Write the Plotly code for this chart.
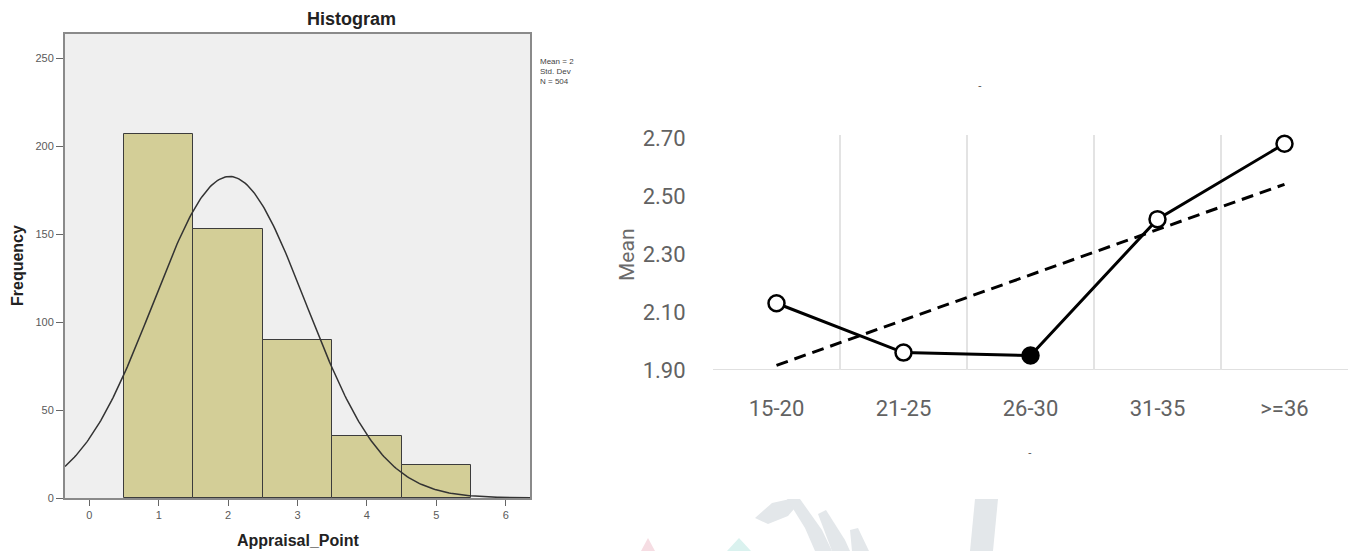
import numpy as np
import plotly.graph_objects as go

W, H = 1354, 551

# ---- Histogram data (Appraisal_Point) ----
points = [1, 2, 3, 4, 5]
freq = [207, 153, 90, 35, 19]

# ---- Mean by age group ----
age_groups = ["15-20", "21-25", "26-30", "31-35", ">=36"]
group_mean = [2.13, 1.96, 1.95, 2.42, 2.68]
y_ticks = [1.90, 2.10, 2.30, 2.50, 2.70]


def px_x(p):
    return p / W


def px_y(p):
    return 1 - p / H


def px_path(pts):
    """SVG path in paper coordinates from pixel points."""
    s = "M " + " L ".join(f"{px_x(x):.5f},{px_y(y):.5f}" for x, y in pts) + " Z"
    return s


def label(text, x, y, size, color="#222222", family="Arial, Liberation Sans, sans-serif",
          angle=0, xanchor="center"):
    return dict(text=text, x=px_x(x), y=px_y(y), xref="paper", yref="paper",
                xanchor=xanchor, yanchor="middle", showarrow=False, textangle=angle,
                font=dict(family=family, size=size, color=color))


fig = go.Figure()

# Histogram bars
fig.add_trace(go.Bar(
    x=points, y=freq, width=1.0,
    marker=dict(color="#d3ce97", line=dict(color="#3c3c3c", width=1)),
    xaxis="x", yaxis="y", showlegend=False,
))

# Normal curve fitted to the histogram
n = sum(freq)
arr = np.repeat(points, freq)
mu = arr.mean()
sd = arr.std(ddof=1)
xs = np.linspace(-0.35, 6.35, 300)
ys = n * 1.0 / (sd * np.sqrt(2 * np.pi)) * np.exp(-((xs - mu) ** 2) / (2 * sd ** 2))
fig.add_trace(go.Scatter(
    x=xs, y=ys, mode="lines", line=dict(color="#333333", width=1.5),
    xaxis="x", yaxis="y", showlegend=False,
))

# Linear trend of the group means
xi = np.arange(1, len(group_mean) + 1)
slope, icpt = np.polyfit(xi, group_mean, 1)
trend = slope * xi + icpt
fig.add_trace(go.Scatter(
    x=xi, y=trend, mode="lines",
    line=dict(color="black", width=3, dash="12px,7px"),
    xaxis="x2", yaxis="y2", showlegend=False,
))

# Group means line with markers
fills = ["black" if g == "26-30" else "white" for g in age_groups]
fig.add_trace(go.Scatter(
    x=xi, y=group_mean, mode="lines+markers",
    line=dict(color="black", width=3),
    marker=dict(size=16, color=fills, line=dict(color="black", width=2.5)),
    xaxis="x2", yaxis="y2", showlegend=False, cliponaxis=False,
))

left_font = dict(family="Arial, Liberation Sans, sans-serif", size=11, color="#5a5a5a")
right_font = dict(family="Roboto, sans-serif", size=22, color="#626262")

# faint watermark strokes at the bottom
wm = [
    ("#e3e7ea", [(975, 499), (998, 499), (993, 551), (970, 551)]),
    ("#e3e7ea", [(755, 518), (772, 503), (790, 499), (800, 502), (788, 516), (768, 524)]),
    ("#e3e7ea", [(787, 499), (800, 499), (822, 530), (832, 551), (815, 551), (805, 528)]),
    ("#e3e7ea", [(818, 514), (826, 510), (845, 540), (850, 551), (832, 551)]),
    ("#e3e7ea", [(850, 530), (858, 528), (869, 551), (852, 551)]),
    ("#f6dde3", [(641, 551), (648, 538), (655, 551)]),
    ("#daf2ef", [(727, 551), (739, 538), (751, 551)]),
]

shapes = [
    # gray plot area of the histogram
    dict(type="rect", xref="x domain", yref="y domain", x0=0, x1=1, y0=0, y1=1,
         fillcolor="#efefef", line=dict(width=0), layer="below"),
    # category axis baseline of the means chart
    dict(type="line", xref="x2 domain", yref="y2", x0=0, x1=1, y0=1.90, y1=1.90,
         line=dict(color="#e0e0e0", width=2), layer="below"),
]
for col, pts in wm:
    shapes.append(dict(type="path", xref="paper", yref="paper", path=px_path(pts),
                       fillcolor=col, line=dict(width=0), layer="below"))

fig.update_layout(
    width=W, height=H,
    margin=dict(l=0, r=0, t=0, b=0, autoexpand=False),
    paper_bgcolor="white",
    plot_bgcolor="white",
    bargap=0,
    xaxis=dict(
        domain=[px_x(65), px_x(530)], range=[-0.35, 6.35],
        tickvals=list(range(0, 7)), ticks="outside", ticklen=6, tickcolor="#666666",
        tickfont=left_font, showgrid=False, zeroline=False,
        showline=True, mirror=True, linecolor="#8a8a8a", linewidth=2,
        anchor="y", fixedrange=True, automargin=False,
    ),
    yaxis=dict(
        domain=[px_y(498), px_y(34)], range=[0, 264],
        tickvals=[0, 50, 100, 150, 200, 250], ticks="outside", ticklen=7, tickcolor="#666666",
        tickfont=left_font, showgrid=False, zeroline=False,
        showline=True, mirror=True, linecolor="#8a8a8a", linewidth=2,
        anchor="x", fixedrange=True, automargin=False,
    ),
    xaxis2=dict(
        domain=[px_x(713), px_x(1348)], range=[0.5, 5.5],
        tickvals=list(xi), ticktext=age_groups,
        ticks="outside", ticklen=19, tickcolor="rgba(0,0,0,0)",
        tickfont=right_font, showgrid=False, zeroline=False,
        showline=False,
        minor=dict(tickvals=[0.5, 1.5, 2.5, 3.5, 4.5, 5.5], showgrid=True,
                   gridcolor="#e3e3e3", gridwidth=1.5, ticks=""),
        anchor="y2", fixedrange=True, automargin=False,
    ),
    yaxis2=dict(
        domain=[px_y(370), px_y(135)], range=[1.90, 2.71],
        tickvals=y_ticks, ticktext=[f"{v:.2f}" for v in y_ticks],
        ticks="outside", ticklen=22, tickcolor="rgba(0,0,0,0)",
        tickfont=right_font, showgrid=False, zeroline=False,
        showline=False, anchor="x2", fixedrange=True, automargin=False,
    ),
    shapes=shapes,
    annotations=[
        label("<b>Histogram</b>", 351, 19, 18),
        label("<b>Frequency</b>", 17, 266, 16, angle=-90),
        label("<b>Appraisal_Point</b>", 298, 540, 16),
        label("Mean = 2", 538, 61, 8, color="#444444", xanchor="left"),
        label("Std. Dev", 538, 71, 8, color="#444444", xanchor="left"),
        label("N = 504", 538, 81, 8, color="#444444", xanchor="left"),
        label("Mean", 627, 255, 21, color="#6a6a6a", family="Roboto, sans-serif", angle=-90),
        label("-", 980, 85, 11, color="#555555"),
        label("-", 1030, 452, 11, color="#555555"),
    ],
)

fig.write_html("out.html", config={"displayModeBar": False})
